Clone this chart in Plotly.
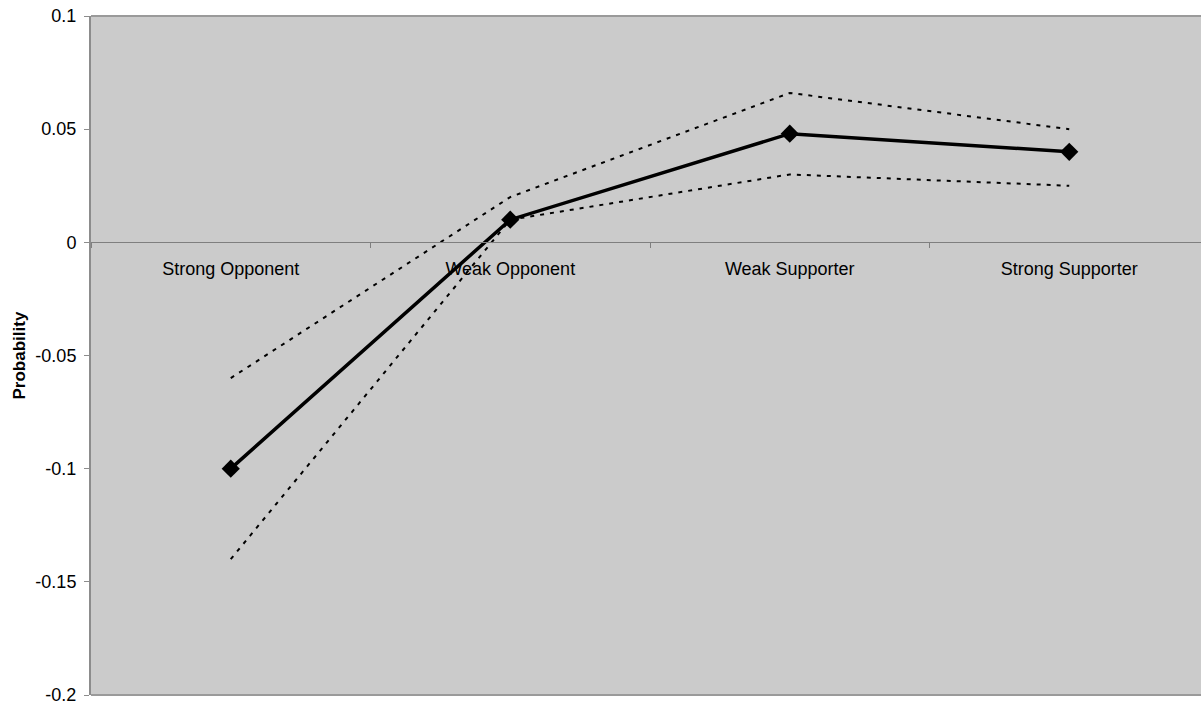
import plotly.graph_objects as go

categories = ["Strong Opponent", "Weak Opponent", "Weak Supporter", "Strong Supporter"]
estimate = [-0.10, 0.010, 0.048, 0.040]
upper_bound = [-0.06, 0.020, 0.066, 0.050]
lower_bound = [-0.14, 0.010, 0.030, 0.025]
y_tick_values = [0.1, 0.05, 0, -0.05, -0.1, -0.15, -0.2]
y_tick_labels = ["0.1", "0.05", "0", "-0.05", "-0.1", "-0.15", "-0.2"]

fig = go.Figure()
fig.add_trace(go.Scatter(x=categories, y=upper_bound, mode="lines",
                         line=dict(color="black", width=2, dash="4px,6px"),
                         showlegend=False, hoverinfo="skip"))
fig.add_trace(go.Scatter(x=categories, y=lower_bound, mode="lines",
                         line=dict(color="black", width=2, dash="4px,6px"),
                         showlegend=False, hoverinfo="skip"))
fig.add_trace(go.Scatter(x=categories, y=estimate, mode="lines+markers",
                         line=dict(color="black", width=3.5),
                         marker=dict(symbol="diamond", size=14, color="black"),
                         showlegend=False))

ymin, ymax = -0.2, 0.1
zero_pos = (0 - ymin) / (ymax - ymin)

W, H = 1201, 704
ML, MR, MT, MB = 91, 0, 16, 9
plot_w = W - ML - MR

fig.update_layout(
    width=W, height=H,
    margin=dict(l=ML, r=MR, t=MT, b=MB),
    paper_bgcolor="white",
    plot_bgcolor="#cbcbcb",
    font=dict(family="Liberation Sans, Arial, sans-serif", size=18, color="black"),
    xaxis=dict(type="category", range=[-0.5, -0.5 + plot_w / 279.5], anchor="free", position=zero_pos,
               showline=True, linecolor="#7f7f7f", linewidth=1,
               ticks="outside", tickson="boundaries", ticklen=5, tickcolor="#7f7f7f",
               showgrid=False, zeroline=False, ticklabelstandoff=10,
               tickfont=dict(size=18)),
    yaxis=dict(range=[ymin, ymax], tickvals=y_tick_values, ticktext=y_tick_labels,
               showline=True, linecolor="#8c8c8c", linewidth=2,
               ticks="outside", ticklen=5, tickcolor="#8c8c8c",
               showgrid=False, zeroline=False, ticklabelstandoff=4,
               ticklabeloverflow="allow", tickfont=dict(size=18)),
    shapes=[
        dict(type="line", xref="paper", yref="paper", x0=0, x1=1.01, y0=1, y1=1,
             line=dict(color="#9a9a9a", width=2)),
        dict(type="line", xref="paper", yref="paper", x0=0, x1=1.01, y0=0, y1=0,
             line=dict(color="#9a9a9a", width=2)),
    ],
    annotations=[
        dict(text="<b>Probability</b>", xref="paper", yref="paper",
             x=(19 - ML) / plot_w, y=0.5, xanchor="center", yanchor="middle",
             textangle=-90, showarrow=False, font=dict(size=17)),
    ],
)

fig.write_html("out.html",
               config={"displayModeBar": False},
               post_script="document.body.style.margin='0';document.body.style.overflow='hidden';")
